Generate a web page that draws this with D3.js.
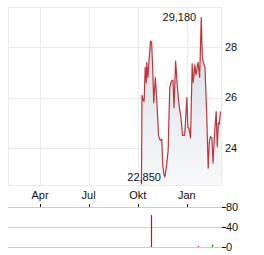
<!DOCTYPE html>
<html>
<head>
<meta charset="utf-8">
<script src="https://cdn.jsdelivr.net/npm/d3@7"></script>
<style>
  body { margin: 0; background: #fff; }
  svg { display: block; font-family: "Liberation Sans", Arial, sans-serif; font-size: 11px; }
</style>
</head>
<body>
<svg id="chart" width="264" height="255"></svg>
<script>
// price series (date, close)
var priceDates = ["2024-10-08","2024-10-09","2024-10-11","2024-10-13","2024-10-15","2024-10-17","2024-10-18",
  "2024-10-20","2024-10-23","2024-10-25","2024-10-27","2024-10-29","2024-10-31","2024-11-03","2024-11-06",
  "2024-11-09","2024-11-12","2024-11-15","2024-11-17","2024-11-19","2024-11-21","2024-11-24","2024-11-27",
  "2024-11-30","2024-12-03","2024-12-06","2024-12-08","2024-12-11","2024-12-14","2024-12-16","2024-12-18",
  "2024-12-21","2024-12-24","2024-12-28","2025-01-01","2025-01-03","2025-01-05","2025-01-08","2025-01-11",
  "2025-01-13","2025-01-16","2025-01-18","2025-01-22","2025-01-25","2025-01-28","2025-01-30","2025-02-01",
  "2025-02-04","2025-02-07","2025-02-10","2025-02-12","2025-02-14","2025-02-17","2025-02-19","2025-02-22",
  "2025-02-25","2025-02-27","2025-03-01","2025-03-03","2025-03-05"];
var priceValues = [22.55, 26.1, 25.9, 25.85, 27.2, 26.6, 27.4,
  26.8, 27.7, 28.25, 28.2, 27.2, 25.8, 26.8, 25.8,
  24.5, 24.3, 24.35, 23.3, 22.95, 22.85, 23.3, 23.9,
  26.4, 26.65, 26.7, 25.6, 27.45, 26.5, 26.0, 25.6,
  25.2, 24.5, 24.5, 26.0, 24.8, 24.8, 24.4, 27.35,
  26.6, 27.3, 26.9, 27.4, 26.8, 29.18, 27.6, 27.4,
  27.2, 25.5, 23.2, 24.2, 24.45, 24.4, 23.4, 24.6,
  25.45, 24.05, 25.0, 24.95, 25.45];

// volume series
var volDates = ["2024-10-25", "2025-01-21", "2025-02-18"];
var volValues = [64, 2, 5];
var volColors = ["#cc1111", "#cc1111", "#119911"];

// axis ticks
var priceTicks = [24, 26, 28];
var volTicks = [0, 40, 80];
var monthTicks = ["2024-04-01", "2024-07-01", "2024-10-01", "2025-01-01"];
var monthNames = ["Apr", "Jul", "Okt", "Jan"];

// labelled extremes
var highLabel = "29,180";
var lowLabel = "22,850";

var parse = d3.timeParse("%Y-%m-%d");
var svg = d3.select("#chart");

var pLeft = 8, pRight = 221, pTop = 7, pBottom = 185;
var volTop = 207, volBottom = 247;

var x = d3.scaleTime()
  .domain([parse("2024-02-01"), parse("2025-03-06")])
  .range([pLeft, pRight]);
var y = d3.scaleLinear().domain([22.53, 29.6]).range([pBottom, pTop]);
var yv = d3.scaleLinear().domain([0, 80]).range([volBottom, volTop]);

var data = priceDates.map(function(d, i) { return { date: parse(d), value: priceValues[i] }; });

// gradient for the area
var defs = svg.append("defs");
var grad = defs.append("linearGradient").attr("id", "fillGrad")
  .attr("gradientUnits", "userSpaceOnUse")
  .attr("x1", 0).attr("x2", 0).attr("y1", pTop).attr("y2", pBottom);
grad.append("stop").attr("offset", 0).attr("stop-color", "#d3dae2");
grad.append("stop").attr("offset", 1).attr("stop-color", "#f8f9fb");
defs.append("clipPath").attr("id", "plotClip").append("rect")
  .attr("x", pLeft).attr("y", pTop).attr("width", pRight - pLeft).attr("height", pBottom - pTop);

// price grid
var grid = svg.append("g").attr("stroke", "#ebebeb").attr("stroke-width", 1).attr("fill", "none");
grid.append("rect").attr("x", pLeft + 0.5).attr("y", pTop + 0.5)
  .attr("width", pRight - pLeft).attr("height", pBottom - pTop);
grid.selectAll("line.h").data(priceTicks).enter().append("line")
  .attr("x1", pLeft).attr("x2", pRight + 0.5)
  .attr("y1", function(d) { return Math.round(y(d)) + 0.5; })
  .attr("y2", function(d) { return Math.round(y(d)) + 0.5; });
grid.selectAll("line.v").data(monthTicks).enter().append("line")
  .attr("y1", pTop).attr("y2", pBottom)
  .attr("x1", function(d) { return Math.round(x(parse(d))) + 0.5; })
  .attr("x2", function(d) { return Math.round(x(parse(d))) + 0.5; });

// area + line
var plot = svg.append("g").attr("clip-path", "url(#plotClip)");
plot.append("path").datum(data)
  .attr("fill", "url(#fillGrad)")
  .attr("d", d3.area().x(function(d) { return x(d.date); }).y0(pBottom).y1(function(d) { return y(d.value); }));
plot.append("path").datum(data)
  .attr("fill", "none").attr("stroke", "#c0343a").attr("stroke-width", 1.2)
  .attr("stroke-linejoin", "round")
  .attr("d", d3.line().x(function(d) { return x(d.date); }).y(function(d) { return y(d.value); }));

// price axis labels (right)
svg.append("g").selectAll("text").data(priceTicks).enter().append("text")
  .attr("x", 225).attr("y", function(d) { return y(d); }).attr("dy", "0.35em")
  .attr("fill", "#111").text(function(d) { return d; });

// extremes
var hi = data[d3.maxIndex(data, function(d) { return d.value; })];
var rest = data.slice(1);
var lo = rest[d3.minIndex(rest, function(d) { return d.value; })];
svg.append("text").attr("x", x(hi.date) - 5).attr("y", y(hi.value)).attr("dy", "0.35em")
  .attr("text-anchor", "end").attr("fill", "#111").text(highLabel);
svg.append("text").attr("x", x(lo.date) - 4).attr("y", y(lo.value)).attr("dy", "0.35em")
  .attr("text-anchor", "end").attr("fill", "#111").text(lowLabel);

// month labels
svg.append("g").selectAll("text").data(monthTicks).enter().append("text")
  .attr("x", function(d) { return x(parse(d)); }).attr("y", 199)
  .attr("text-anchor", "middle").attr("fill", "#111")
  .text(function(d, i) { return monthNames[i]; });

// volume grid
var vg = svg.append("g");
vg.selectAll("line.g").data(volTicks).enter().append("line").attr("class", "g")
  .attr("x1", pLeft).attr("x2", pRight + 1)
  .attr("y1", function(d) { return Math.round(yv(d)) + 0.5; })
  .attr("y2", function(d) { return Math.round(yv(d)) + 0.5; })
  .attr("stroke", "#cccccc");
vg.selectAll("line.t").data(volTicks).enter().append("line").attr("class", "t")
  .attr("x1", pRight + 1).attr("x2", pRight + 5)
  .attr("y1", function(d) { return Math.round(yv(d)) + 0.5; })
  .attr("y2", function(d) { return Math.round(yv(d)) + 0.5; })
  .attr("stroke", "#111");
vg.selectAll("text").data(volTicks).enter().append("text")
  .attr("x", pRight + 5).attr("y", function(d) { return yv(d); }).attr("dy", "0.35em")
  .attr("fill", "#111").text(function(d) { return d; });
vg.selectAll("line.m").data(monthTicks).enter().append("line").attr("class", "m")
  .attr("x1", function(d) { return Math.round(x(parse(d))) + 0.5; })
  .attr("x2", function(d) { return Math.round(x(parse(d))) + 0.5; })
  .attr("y1", volTop - 3).attr("y2", volTop)
  .attr("stroke", "#111");

// volume bars
vg.selectAll("line.bar").data(volValues).enter().append("line").attr("class", "bar")
  .attr("x1", function(d, i) { return Math.round(x(parse(volDates[i]))) + 0.5; })
  .attr("x2", function(d, i) { return Math.round(x(parse(volDates[i]))) + 0.5; })
  .attr("y1", function(d) { return yv(d); })
  .attr("y2", volBottom)
  .attr("stroke-width", 1.2)
  .attr("stroke", function(d, i) { return volColors[i]; });
</script>
</body>
</html>
